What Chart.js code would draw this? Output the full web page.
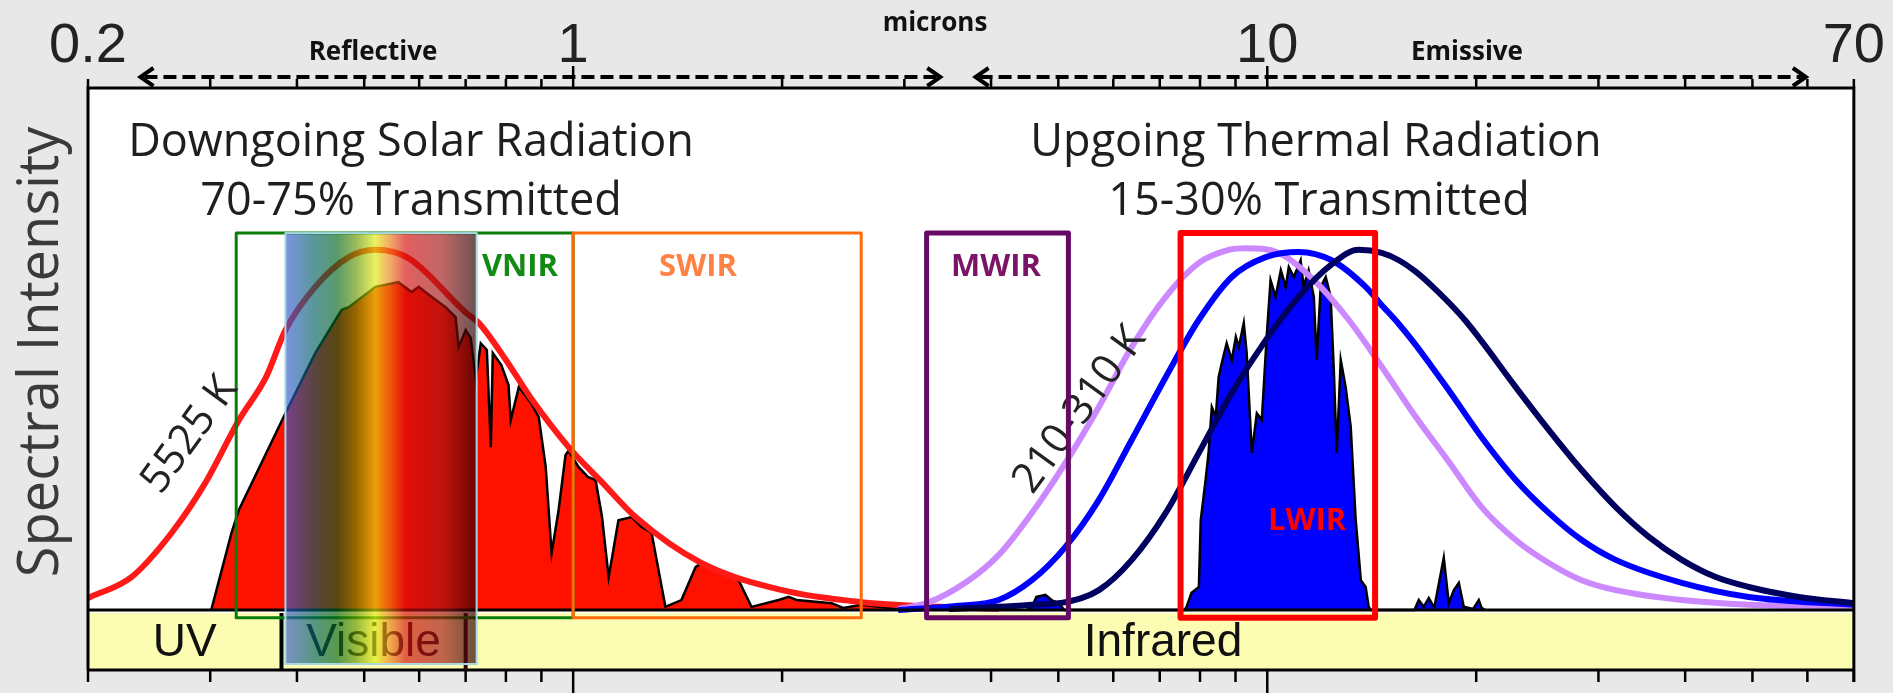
<!DOCTYPE html>
<html>
<head>
<meta charset="utf-8">
<script src="https://cdn.jsdelivr.net/npm/chart.js@4.4.1/dist/chart.umd.min.js"></script>
<style>
  html, body { margin: 0; padding: 0; background: #e8e8e8; }
  #wrap { width: 1893px; height: 693px; }
</style>
</head>
<body>
<div id="wrap"><canvas id="spectrum" width="1893" height="693"></canvas></div>
<script>
// wavelength axis, microns
const tickValues = [0.2, 0.3, 0.4, 0.5, 0.6, 0.7, 0.8, 0.9, 1, 2, 3, 4, 5, 6, 7, 8, 9, 10, 20, 30, 40, 50, 60, 70];
const labeledTicks = [0.2, 1, 10, 70];
const majorTicks = [1, 10];

// 5525 K blackbody
const sunWl  = [0.2, 0.231, 0.264, 0.295, 0.33, 0.361, 0.385, 0.425, 0.475, 0.519, 0.579, 0.70, 0.731, 0.80, 0.871, 0.985, 1.1, 1.23, 1.53, 2.0, 2.6, 3.36, 4.1];
const sunVal = [2.3, 6.3, 14.8, 24.3, 36.4, 44.6, 53.6, 61.9, 67.6, 69.0, 67.4, 57.0, 55.0, 47.9, 40.4, 31.2, 24.5, 17.8, 9.0, 3.8, 1.5, 0.6, 0.2];

// transmitted solar spectrum
const solarWl  = [0.301, 0.322, 0.33, 0.385, 0.425, 0.464, 0.475, 0.519, 0.56, 0.585, 0.599, 0.625, 0.655, 0.677, 0.684, 0.70, 0.712, 0.724, 0.736, 0.751, 0.761, 0.766, 0.788, 0.807, 0.813, 0.835, 0.871, 0.892, 0.913, 0.931, 0.953, 0.975, 0.985, 1.018, 1.05, 1.077, 1.10, 1.125, 1.162, 1.214, 1.255, 1.297, 1.358, 1.432, 1.501, 1.53, 1.62, 1.731, 1.807, 1.977, 2.044, 2.1, 2.357, 2.45, 2.6, 2.94];
const solarVal = [0, 14.8, 19.2, 37.7, 49.2, 57.5, 58.0, 61.9, 62.8, 60.9, 61.9, 60.0, 58.0, 56.1, 50.4, 53.6, 52.1, 44.1, 51.1, 49.8, 31.2, 49.2, 46.9, 43.1, 36.4, 42.7, 39.5, 37.0, 27.4, 10.9, 19.2, 29.7, 30.5, 27.4, 25.5, 24.9, 18.0, 6.3, 17.2, 17.8, 15.9, 14.8, 0.6, 1.9, 8.2, 9.0, 7.7, 5.7, 0.6, 1.9, 2.5, 1.9, 1.3, 0.4, 1.0, 0.2];

// transmitted thermal spectrum
const thermWl  = [4.5, 4.58, 4.65, 4.79, 4.89, 5.01, 5.1, 7.6, 7.65, 7.78, 7.97, 8.02, 8.15, 8.23, 8.32, 8.43, 8.51, 8.60, 8.74, 8.89, 9.01, 9.10, 9.25, 9.34, 9.50, 9.66, 9.82, 9.98, 10.11, 10.28, 10.46, 10.63, 10.74, 10.92, 11.17, 11.28, 11.47, 11.67, 11.78, 11.94, 12.14, 12.34, 12.47, 12.59, 12.76, 12.97, 13.19, 13.41, 13.64, 13.86, 14.0, 14.1, 16.3, 16.37, 16.53, 16.8, 17.09, 17.4, 17.96, 18.26, 18.57, 18.88, 19.19, 19.8, 20.17, 20.36, 20.6];
const thermVal = [0, 0.6, 2.5, 2.9, 1.9, 1.3, 0, 0, 0.6, 3.3, 4.4, 17.2, 24.9, 30.1, 38.9, 37.0, 44.6, 47.3, 51.1, 47.9, 52.3, 50.4, 55.0, 49.2, 30.1, 37.7, 36.4, 52.3, 63.2, 60.0, 65.1, 61.9, 65.7, 63.8, 67.0, 61.9, 65.1, 60.0, 47.9, 61.9, 63.8, 60.0, 46.0, 30.1, 47.9, 42.7, 35.1, 17.2, 5.7, 4.4, 0.6, 0, 0, 0.6, 1.9, 0.6, 2.3, 0.4, 10.0, 1.3, 3.8, 5.2, 0.6, 0.2, 1.9, 0.4, 0];

// 310 K, mid and 210 K blackbodies
const warmWl  = [2.94, 3.23, 3.69, 4.10, 4.58, 5.12, 5.72, 6.38, 7.14, 7.97, 8.80, 9.31, 10.39, 11.59, 13.10, 14.62, 16.36, 18.26, 20.36, 22.80, 25.44, 28.38, 31.77, 39.56, 49.40, 70];
const warmVal = [0.2, 1.3, 5.4, 10.5, 18.6, 28.2, 38.9, 50.4, 60.0, 66.5, 69.0, 69.3, 68.4, 63.6, 55.6, 46.6, 37.0, 28.4, 19.7, 13.4, 9.0, 5.7, 3.8, 1.9, 1.0, 0.6];
const midWl  = [2.94, 3.59, 4.10, 4.58, 5.12, 5.72, 6.38, 7.14, 7.97, 8.89, 9.95, 11.10, 12.38, 13.86, 14.62, 15.47, 16.36, 17.26, 18.26, 20.36, 22.80, 25.44, 28.38, 31.77, 39.56, 49.40, 70];
const midVal = [0, 0.8, 1.9, 5.7, 12.1, 21.1, 32.6, 44.6, 55.6, 63.8, 67.6, 68.6, 67.0, 61.9, 58.4, 54.8, 50.8, 46.6, 42.1, 33.1, 24.9, 18.6, 13.4, 9.6, 5.2, 2.5, 1.0];
const coldWl  = [3.48, 4.10, 4.58, 5.12, 5.72, 6.38, 7.14, 7.97, 8.89, 9.95, 11.10, 12.38, 13.54, 14.62, 15.47, 16.36, 17.26, 18.26, 19.30, 20.36, 22.80, 25.44, 28.38, 31.77, 35.46, 39.56, 44.28, 49.40, 58.31, 70];
const coldVal = [0.2, 0.6, 1.0, 1.5, 3.8, 9.6, 18.6, 30.1, 41.6, 51.7, 60.0, 66.2, 69.0, 68.4, 67.0, 64.8, 62.1, 58.9, 55.4, 51.5, 42.7, 34.5, 26.8, 19.7, 14.0, 9.6, 6.3, 4.4, 2.5, 1.3];

// spectral regions
const bandNames = ['UV', 'Visible', 'Infrared'];
const bandFrom  = [0.2, 0.38, 0.7];
const bandTo    = [0.38, 0.7, 70];
const sensorNames = ['VNIR', 'SWIR', 'MWIR', 'LWIR'];
const sensorFrom  = [0.327, 1.0, 3.23, 7.5];
const sensorTo    = [1.0, 2.6, 5.17, 14.3];
const regionNames = ['Reflective', 'Emissive'];
const regionFrom  = [0.238, 3.8];
const regionTo    = [3.38, 59.7];
const visibleFrom = 0.385, visibleTo = 0.726;

const pts = (xs, ys) => xs.map((x, i) => ({ x, y: ys[i] }));

const sensorStyle = [
  { color: '#0b7d0b', width: 3, text: '#138a13', tx: 520, ty: 267 },
  { color: '#ff6a0a', width: 3, text: '#ff8244', tx: 698, ty: 267 },
  { color: '#640a64', width: 5, text: '#7b1466', tx: 996, ty: 267 },
  { color: '#ff0000', width: 6, text: '#ff0000', tx: 1307, ty: 521 }
];
const BOX_TOP = 72.2, BOX_BOTTOM = -1.5;

function label(ctx, str, x, y, font, color, angle) {
  ctx.save();
  ctx.translate(x, y);
  if (angle) ctx.rotate(angle * Math.PI / 180);
  ctx.font = font;
  ctx.fillStyle = color;
  ctx.textAlign = 'center';
  ctx.textBaseline = 'middle';
  ctx.fillText(str, 0, 0);
  ctx.restore();
}

function drawBox(ctx, x, y, i) {
  const s = sensorStyle[i];
  const l = x.getPixelForValue(sensorFrom[i]), r = x.getPixelForValue(sensorTo[i]);
  const t = y.getPixelForValue(BOX_TOP), b = y.getPixelForValue(BOX_BOTTOM);
  ctx.save();
  ctx.strokeStyle = s.color;
  ctx.lineWidth = s.width;
  ctx.lineJoin = 'round';
  ctx.strokeRect(l, t, r - l, b - t);
  ctx.restore();
}

const decor = {
  id: 'decor',
  beforeDraw(chart) {
    const { ctx, chartArea: a, scales: { x, y } } = chart;
    ctx.save();
    ctx.fillStyle = '#e8e8e8';
    ctx.fillRect(0, 0, chart.width, chart.height);
    ctx.fillStyle = '#ffffff';
    ctx.fillRect(a.left, a.top, a.right - a.left, a.bottom - a.top);
    // UV / Visible / Infrared band
    const bt = y.getPixelForValue(0) + 3;
    ctx.fillStyle = '#fcfcb2';
    ctx.fillRect(a.left, bt, a.right - a.left, a.bottom - bt);
    bandNames.forEach((n, i) => {
      const cx = (x.getPixelForValue(bandFrom[i]) + x.getPixelForValue(bandTo[i])) / 2;
      const px = i === 2 ? 1163 : cx;
      label(ctx, n, px, (bt + a.bottom) / 2 + 2, '46px "Liberation Sans"', '#111', 0);
    });
    ctx.restore();
  },
  afterDatasetsDraw(chart) {
    const { ctx, chartArea: a, scales: { x, y } } = chart;
    const y0 = y.getPixelForValue(0);
    const bt = y0 + 3;
    ctx.save();
    // baseline and band outline
    ctx.strokeStyle = '#000';
    ctx.lineWidth = 3;
    ctx.beginPath(); ctx.moveTo(a.left, y0); ctx.lineTo(a.right, y0); ctx.stroke();
    ctx.beginPath(); ctx.moveTo(a.left, a.bottom); ctx.lineTo(a.right, a.bottom); ctx.stroke();
    ctx.lineWidth = 4;
    [bandFrom[1], bandTo[1]].forEach((v, k) => {
      const px = x.getPixelForValue(v);
      ctx.strokeStyle = k === 0 ? '#000' : '#2a0a0a';
      ctx.beginPath(); ctx.moveTo(px, bt); ctx.lineTo(px, a.bottom); ctx.stroke();
    });

    drawBox(ctx, x, y, 0);
    drawBox(ctx, x, y, 1);

    // visible light overlay
    const vl = x.getPixelForValue(visibleFrom), vr = x.getPixelForValue(visibleTo);
    const vt = y.getPixelForValue(BOX_TOP), vb = a.bottom - 6;
    const g = ctx.createLinearGradient(vl, 0, vr, 0);
    g.addColorStop(0.00, 'rgba(52,89,212,0.65)');
    g.addColorStop(0.15, 'rgba(0,95,100,0.65)');
    g.addColorStop(0.27, 'rgba(0,100,25,0.65)');
    g.addColorStop(0.37, 'rgba(100,150,0,0.65)');
    g.addColorStop(0.47, 'rgba(225,235,10,0.65)');
    g.addColorStop(0.55, 'rgba(235,120,20,0.65)');
    g.addColorStop(0.63, 'rgba(210,10,10,0.65)');
    g.addColorStop(0.82, 'rgba(160,20,20,0.65)');
    g.addColorStop(1.00, 'rgba(35,0,0,0.68)');
    ctx.fillStyle = g;
    ctx.fillRect(vl, vt, vr - vl, vb - vt);
    ctx.strokeStyle = '#a8d8e0';
    ctx.lineWidth = 2;
    ctx.strokeRect(vl, vt, vr - vl, vb - vt);

    label(ctx, '5525 K', 190, 435, '42px "Open Sans"', '#222', -54);
    label(ctx, '210-310 K', 1080, 410, '42px "Open Sans"', '#222', -54);

    drawBox(ctx, x, y, 2);
    drawBox(ctx, x, y, 3);
    sensorNames.forEach((n, i) => {
      const s = sensorStyle[i];
      label(ctx, n, s.tx, s.ty, 'bold 31px "Open Sans"', s.text, 0);
    });

    // titles
    label(ctx, 'Downgoing Solar Radiation', 411, 143, '45px "Open Sans"', '#1e1e1e', 0);
    label(ctx, '70-75% Transmitted', 411, 202, '45px "Open Sans"', '#1e1e1e', 0);
    label(ctx, 'Upgoing Thermal Radiation', 1316, 143, '45px "Open Sans"', '#1e1e1e', 0);
    label(ctx, '15-30% Transmitted', 1319, 202, '45px "Open Sans"', '#1e1e1e', 0);
    label(ctx, 'Spectral Intensity', 42, 352, '56px "Open Sans"', '#3a3a3a', -90);

    // frame
    ctx.strokeStyle = '#000';
    ctx.lineWidth = 3;
    ctx.beginPath();
    ctx.moveTo(a.left, a.bottom); ctx.lineTo(a.left, a.top); ctx.lineTo(a.right, a.top); ctx.lineTo(a.right, a.bottom + 12);
    ctx.stroke();

    // tick marks top and bottom
    ctx.lineWidth = 2.5;
    tickValues.forEach(v => {
      const px = x.getPixelForValue(v);
      const major = majorTicks.includes(v);
      ctx.beginPath();
      ctx.moveTo(px, a.top); ctx.lineTo(px, a.top - (major ? 22 : 9));
      ctx.moveTo(px, a.bottom); ctx.lineTo(px, a.bottom + (major ? 24 : 12));
      ctx.stroke();
    });

    // reflective / emissive arrows
    const ay = 77;
    regionNames.forEach((n, i) => {
      const x1 = x.getPixelForValue(regionFrom[i]), x2 = x.getPixelForValue(regionTo[i]);
      ctx.save();
      ctx.lineWidth = 4;
      ctx.setLineDash([13, 6]);
      ctx.beginPath(); ctx.moveTo(x1 + 4, ay); ctx.lineTo(x2 - 4, ay); ctx.stroke();
      ctx.setLineDash([]);
      ctx.lineJoin = 'miter';
      ctx.beginPath();
      ctx.moveTo(x1 + 13, ay - 9); ctx.lineTo(x1, ay); ctx.lineTo(x1 + 13, ay + 9);
      ctx.moveTo(x2 - 13, ay - 9); ctx.lineTo(x2, ay); ctx.lineTo(x2 - 13, ay + 9);
      ctx.stroke();
      ctx.restore();
    });
    label(ctx, 'Reflective', 373, 53, 'bold 26px "Open Sans"', '#111', 0);
    label(ctx, 'Emissive', 1467, 53, 'bold 26px "Open Sans"', '#111', 0);
    label(ctx, 'microns', 935, 24, 'bold 26px "Open Sans"', '#111', 0);
    ctx.restore();
  }
};

const curve = (xs, ys, color) => ({
  data: pts(xs, ys), borderColor: color, borderWidth: 6, pointRadius: 0,
  cubicInterpolationMode: 'monotone', fill: false
});

new Chart(document.getElementById('spectrum'), {
  type: 'line',
  data: {
    datasets: [
      curve(coldWl, coldVal, '#00005e'),
      curve(midWl, midVal, '#0000ff'),
      curve(warmWl, warmVal, '#cc88ff'),
      curve(sunWl, sunVal, '#ff1a1a'),
      { data: pts(solarWl, solarVal), borderColor: '#000', borderWidth: 2.5, backgroundColor: '#ff1100',
        pointRadius: 0, tension: 0, fill: 'origin' },
      { data: pts(thermWl, thermVal), borderColor: '#000', borderWidth: 2.5, backgroundColor: '#0000ff',
        pointRadius: 0, tension: 0, fill: 'origin' }
    ]
  },
  options: {
    responsive: false,
    animation: false,
    devicePixelRatio: 1,
    events: [],
    layout: { padding: { left: 88, right: 38, top: 0, bottom: 23 } },
    plugins: { legend: { display: false }, tooltip: { enabled: false } },
    scales: {
      x: {
        type: 'logarithmic', position: 'top', min: 0.2, max: 70,
        afterBuildTicks: s => { s.ticks = tickValues.map(v => ({ value: v, major: majorTicks.includes(v) })); },
        afterFit: s => { s.height = 88; },
        grid: { display: false, drawTicks: false },
        border: { display: false },
        ticks: {
          autoSkip: false, maxRotation: 0, padding: 8, color: '#222',
          font: { family: 'Liberation Sans', size: 56 },
          callback: v => labeledTicks.includes(v) ? String(v) : ''
        }
      },
      y: { type: 'linear', min: -11.5, max: 100, display: false }
    }
  },
  plugins: [decor]
});
</script>
</body>
</html>
